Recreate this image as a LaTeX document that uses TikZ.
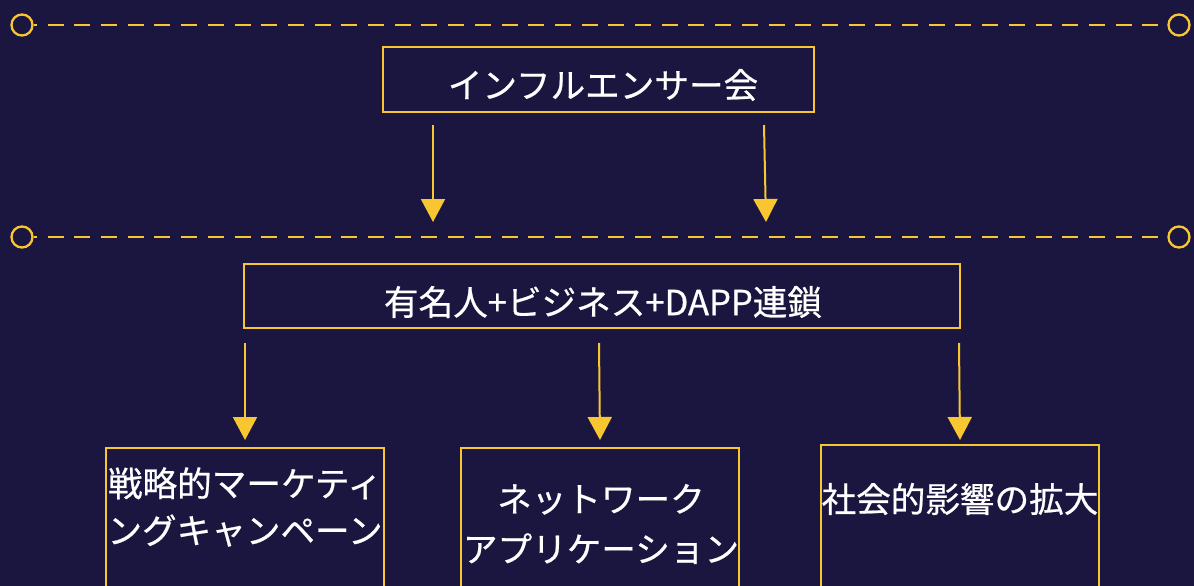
\documentclass[tikz,border=0pt]{standalone}
\usepackage{fontspec}
\newfontfamily\jp[FakeBold=0.6]{Noto Sans CJK JP}
\usetikzlibrary{arrows.meta}
\definecolor{bg}{HTML}{1A1640}
\definecolor{gold}{HTML}{F7C631}
\tikzset{
  box/.style={draw=gold, line width=2.5pt, rectangle, inner sep=0pt},
  txt/.style={text=white, font=\jp\fontsize{34.6}{40}\selectfont, inner sep=0pt, align=center},
  circ/.style={draw=gold, line width=2.3pt, circle, minimum size=21pt, inner sep=0pt},
  dline/.style={draw=gold, line width=2.5pt, dash pattern=on 16pt off 10.7pt, dash phase=-14pt},
  arr/.style={draw=gold, line width=2pt, -{Triangle[width=24pt,length=23pt]}, shorten >=0pt}
}
\begin{document}
\begin{tikzpicture}[x=1pt,y=-1pt]
\fill[bg] (0,0) rectangle (1194,586);
\useasboundingbox (0,0) rectangle (1194,586);
\clip (0,0) rectangle (1194,586);
% dashed lines
\node[circ] (c1a) at (22,25) {};
\node[circ] (c1b) at (1179,25) {};
\draw[dline] (c1a) -- (c1b);
\node[circ] (c2a) at (22,237) {};
\node[circ] (c2b) at (1179,237) {};
\draw[dline] (c2a) -- (c2b);
% boxes
\node[box, minimum width=431pt, minimum height=65pt] (top) at (598.5,79.5) {};
\node[txt] (toptxt) at (603,85) {インフルエンサー会};
\node[box, minimum width=716pt, minimum height=64pt] (mid) at (602,296) {};
\node[txt] (midtxt) at (603,302) {有名人+ビジネス+DAPP連鎖};
\node[box, minimum width=278pt, minimum height=160pt] (b1) at (245,528) {};
\node[box, minimum width=278pt, minimum height=160pt] (b2) at (600,528) {};
\node[box, minimum width=278pt, minimum height=160pt] (b3) at (960,525) {};
\node[txt, font=\jp\fontsize{34.6}{47}\selectfont] (t1) at (245,507) {戦略的マーケティ\\ングキャンペーン};
\node[txt, font=\jp\fontsize{34.6}{50}\selectfont] (t2) at (601,524) {ネットワーク\\アプリケーション};
\node[txt] (t3) at (960,499) {社会的影響の拡大};
% arrows
\coordinate (a1s) at (433,125); \coordinate (a1e) at (433,222);
\coordinate (a2s) at (764,125); \coordinate (a2e) at (766,222);
\coordinate (a3s) at (245,343); \coordinate (a3e) at (245,440);
\coordinate (a4s) at (599,343); \coordinate (a4e) at (600,440);
\coordinate (a5s) at (959,343); \coordinate (a5e) at (960,440);
\draw[arr] (a1s) -- (a1e);
\draw[arr] (a2s) -- (a2e);
\draw[arr] (a3s) -- (a3e);
\draw[arr] (a4s) -- (a4e);
\draw[arr] (a5s) -- (a5e);
\end{tikzpicture}
\end{document}
